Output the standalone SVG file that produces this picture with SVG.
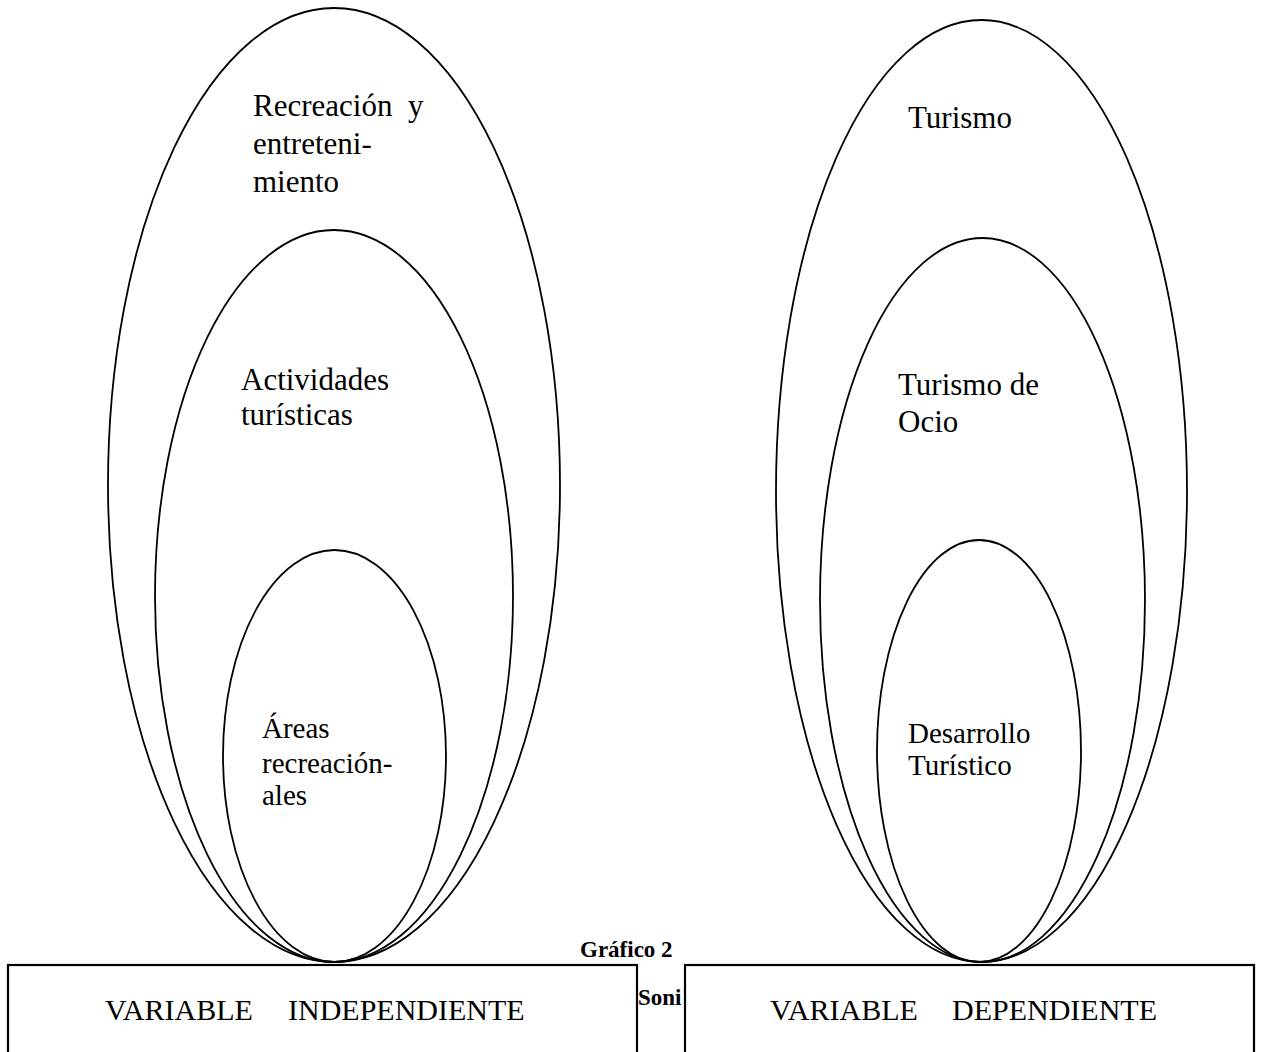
<svg xmlns="http://www.w3.org/2000/svg" width="1263" height="1052" viewBox="0 0 1263 1052">
<style>
.e{fill:none;stroke:#000;stroke-width:1.8}
.b{fill:#fff;stroke:#000;stroke-width:2.2}
.t{font-family:"Liberation Serif","Times New Roman",serif;font-size:31px;fill:#000}
.s{font-family:"Liberation Serif","Times New Roman",serif;font-size:29px;fill:#000}
.g{font-family:"Liberation Serif","Times New Roman",serif;font-size:23px;font-weight:bold;fill:#000}
.v{font-family:"Liberation Serif","Times New Roman",serif;font-size:30px;fill:#000}
</style>
<rect width="1263" height="1052" fill="#fff"/>
<g id="left-outer"><ellipse class="e" cx="334" cy="485" rx="226" ry="477"/>
<text class="t" x="253" y="116">Recreación</text><text class="t" x="408" y="116">y</text>
<text class="t" x="253" y="154">entreteni-</text><text class="t" x="253" y="192">miento</text></g>
<g id="left-middle"><ellipse class="e" cx="334" cy="596" rx="179" ry="366"/>
<text class="t" x="241" y="390">Actividades</text><text class="t" x="241" y="425">turísticas</text></g>
<g id="left-inner"><ellipse class="e" cx="334.5" cy="756" rx="111.5" ry="206"/>
<text class="s" x="262" y="738">Áreas</text><text class="s" x="262" y="773">recreación-</text><text class="s" x="262" y="805">ales</text></g>
<g id="right-outer"><ellipse class="e" cx="981.5" cy="491" rx="205.5" ry="471"/>
<text class="t" x="908" y="128">Turismo</text></g>
<g id="right-middle"><ellipse class="e" cx="982.5" cy="600" rx="162.5" ry="362"/>
<text class="t" x="898" y="395">Turismo de</text><text class="t" x="898" y="432">Ocio</text></g>
<g id="right-inner"><ellipse class="e" cx="979" cy="751" rx="102" ry="211"/>
<text class="s" x="908" y="743">Desarrollo</text><text class="s" x="908" y="775">Turístico</text></g>
<g id="caption"><text class="g" x="580" y="957">Gráfico 2</text><text class="g" x="638" y="1005">Soni</text></g>
<g id="box-independiente"><rect class="b" x="8" y="965" width="629" height="100"/>
<text class="v" x="105" y="1020">VARIABLE</text><text class="v" x="288" y="1020">INDEPENDIENTE</text></g>
<g id="box-dependiente"><rect class="b" x="685" y="965" width="569" height="100"/>
<text class="v" x="770" y="1020">VARIABLE</text><text class="v" x="952" y="1020">DEPENDIENTE</text></g>
<g id="connectors"></g>
</svg>
